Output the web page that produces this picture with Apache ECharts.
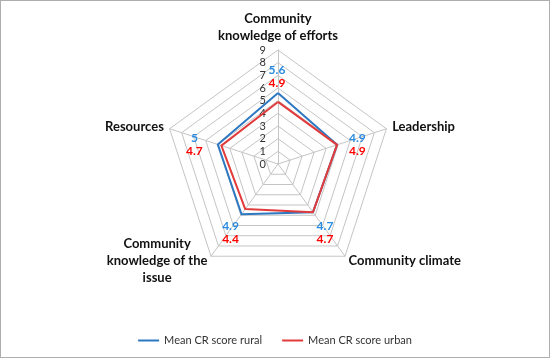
<!DOCTYPE html>
<html><head><meta charset="utf-8">
<script src="https://cdn.jsdelivr.net/npm/echarts@6/dist/echarts.min.js"></script>
<style>html,body{margin:0;padding:0;background:#fff}#c{width:550px;height:358px;box-sizing:border-box;border:1px solid #aeaeae}</style>
</head><body><div id="c"></div>
<script>
// Indicator order follows ECharts' counter-clockwise layout starting at the top
const categories = ['Community\nknowledge of efforts','Resources','Community\nknowledge of the\nissue','Community climate','Leadership'];
const rural = [5.6, 5, 4.9, 4.7, 4.9];
const urban = [4.9, 4.7, 4.4, 4.7, 4.9];
const seriesNames = ['Mean CR score rural','Mean CR score urban'];
const ticks = [0,1,2,3,4,5,6,7,8,9];
const BLUE = '#2E78C2', RED = '#E23B3B', BLUE_T = '#2A8BE0', RED_T = '#FF0000';
const FONT = 'Lato, "Open Sans", sans-serif';

const chart = echarts.init(document.getElementById('c'));
const labelPos = [
  {offset:[-1,2], position:'top'},
  {offset:[-10,0], position:'left'},
  {offset:[-11,0], position:'bottom'},
  {offset:[12,2], position:'bottom'},
  {offset:[7,0], position:'right'}
];
const labelSeries = labelPos.map((lp, k) => ({
  type:'radar', silent:true, symbolSize:0, lineStyle:{opacity:0}, z:5,
  data:[{value: rural, name:'_lbl'+k}],
  label:{show:true, position: lp.position, offset: lp.offset,
    formatter: p => p.dimensionIndex === k ? '{a|' + rural[k] + '}\n{b|' + urban[k] + '}' : '',
    rich:{a:{color:BLUE_T, fontWeight:'bold', fontSize:12, fontFamily:FONT, lineHeight:13, align:'center'},
          b:{color:RED_T, fontWeight:'bold', fontSize:12, fontFamily:FONT, lineHeight:13, align:'center'}}}
}));

chart.setOption({
  animation:false,
  legend:{top:329, left:'center', itemWidth:21, itemHeight:2, itemGap:20, icon:'rect',
    textStyle:{fontSize:11, color:'#333', fontFamily:FONT}, data: seriesNames},
  radar:{
    center:[277,163], radius:114, startAngle:90, shape:'polygon', splitNumber:9,
    indicator: categories.map((c,i) => ({name:c, min:0, max:ticks[ticks.length-1],
       axisLabel: i===0 ? {show:true, color:'#333', fontSize:11, fontFamily:FONT, margin:12} : {show:false}})),
    axisName:{color:'#111', fontWeight:'bold', fontSize:13, fontFamily:FONT,
      formatter: n => n.split('\n').map(s => '{c|' + s + '}').join('\n'),
      rich:{c:{color:'#111', fontWeight:'bold', fontSize:13, fontFamily:FONT, lineHeight:17, align:'center'}}},
    nameGap:6,
    axisLine:{lineStyle:{color:'#c4c4c4', width:1}},
    splitLine:{lineStyle:{color:'#c4c4c4', width:1}},
    splitArea:{show:false},
    axisTick:{show:false}
  },
  series:[
    {type:'radar', symbol:'none', lineStyle:{width:2}, z:3,
     data:[{value: rural, name: seriesNames[0], lineStyle:{color:BLUE, width:2}, itemStyle:{color:BLUE}},
           {value: urban, name: seriesNames[1], lineStyle:{color:RED, width:2}, itemStyle:{color:RED}}]}
  ].concat(labelSeries)
});
</script></body></html>
